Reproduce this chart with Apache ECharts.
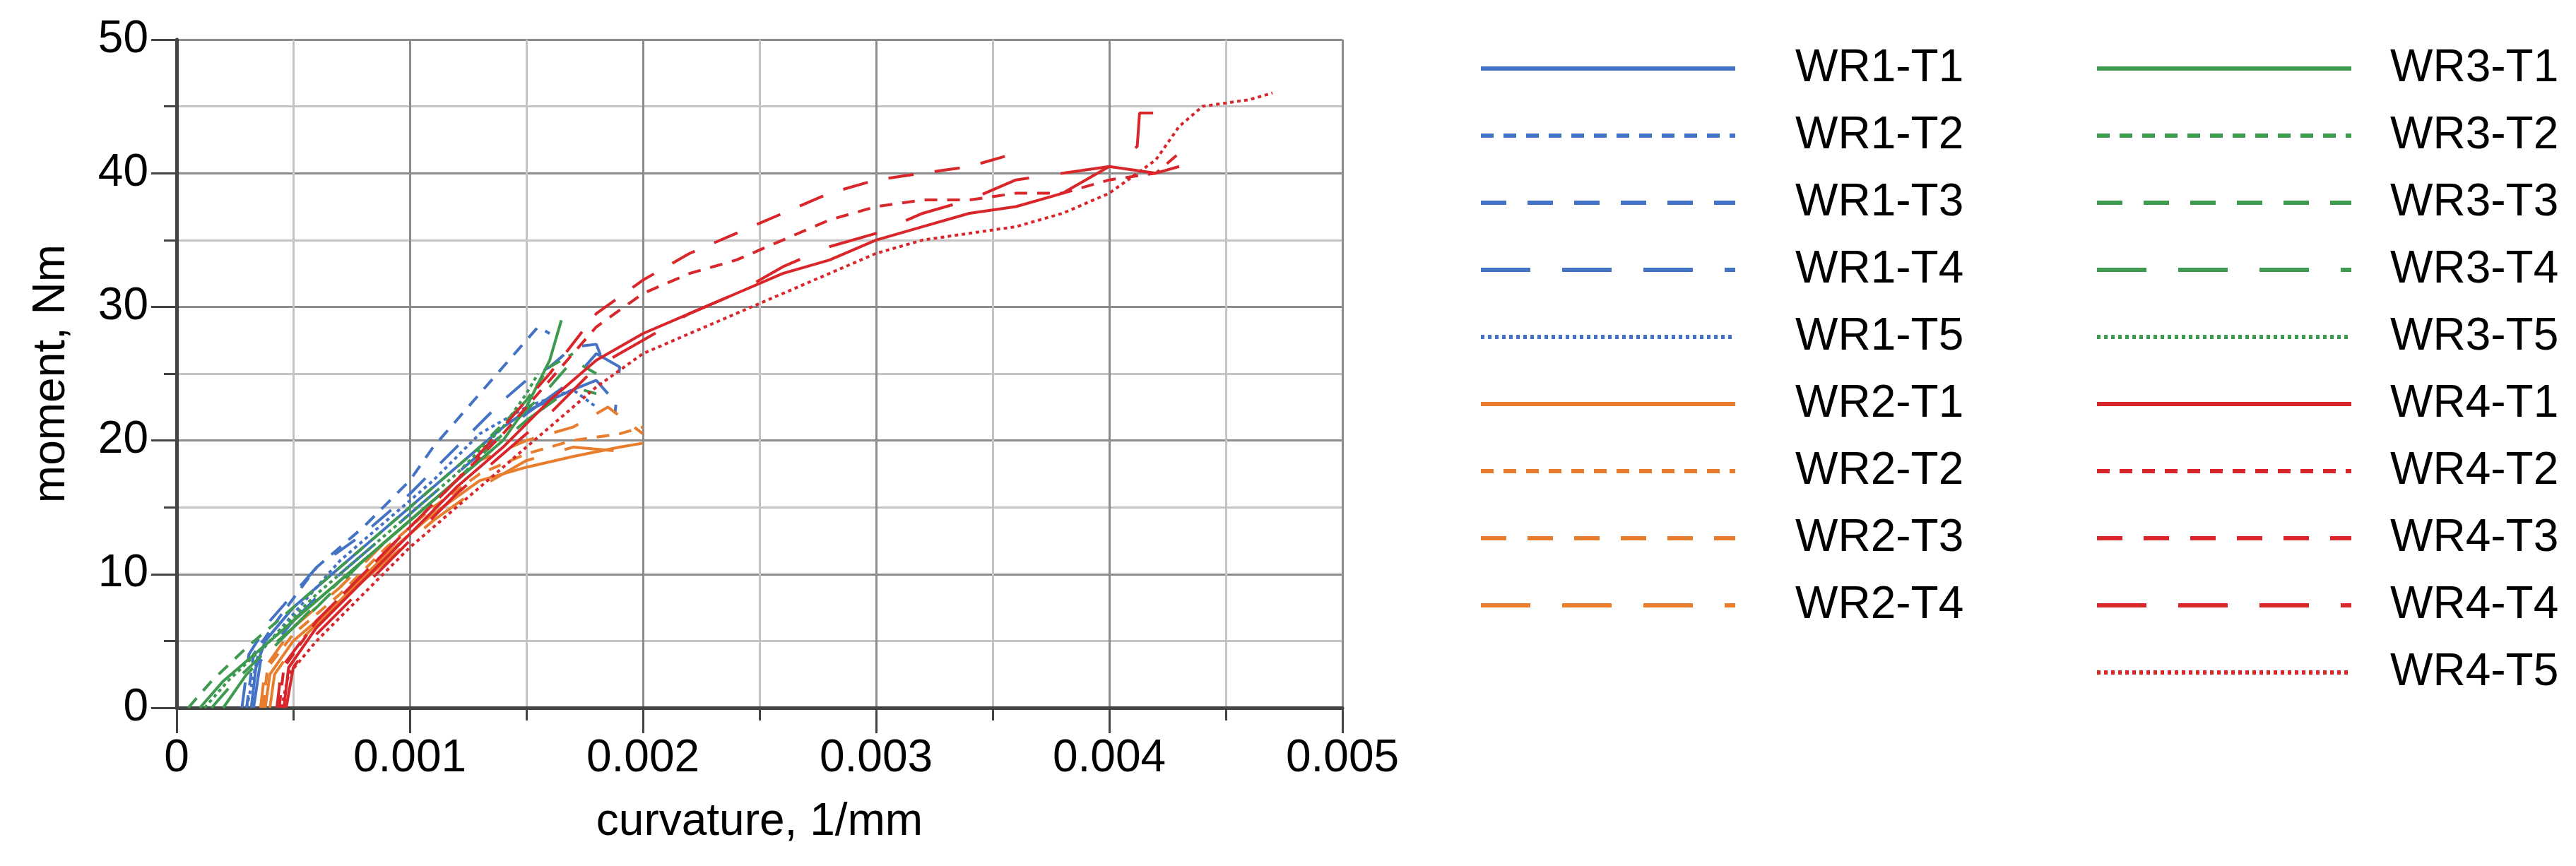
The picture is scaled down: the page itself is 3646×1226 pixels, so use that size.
<!DOCTYPE html>
<html><head><meta charset="utf-8">
<script src="https://cdn.jsdelivr.net/npm/echarts@6/dist/echarts.min.js"></script>
<style>html,body{margin:0;padding:0;background:#fff}#c{width:3646px;height:1226px}</style>
</head><body><div id="c"></div>
<script>
const WR1_T1=[[0.00032,0],[0.00034,3],[0.00038,5],[0.0005,7.5],[0.0007,10.5],[0.0009,13.5],[0.0011,16.5],[0.0013,19.5],[0.0014,21],[0.0015,22.2],[0.0016,23],[0.0017,23.8],[0.0018,24.5],[0.00185,23.5]];
const WR1_T2=[[0.0003,0],[0.00033,4],[0.00045,7],[0.0006,10.5],[0.0008,13.5],[0.001,17],[0.0011,19.5],[0.0012,21.5],[0.0013,23.5],[0.0014,25.5],[0.0015,27.5],[0.00155,28.5],[0.0016,28]];
const WR1_T3=[[0.00028,0],[0.00031,4],[0.0004,6.5],[0.0006,10.5],[0.0008,13],[0.001,16],[0.0012,19.5],[0.0014,23],[0.0015,24.5],[0.0016,25.5],[0.0017,27],[0.0018,27.2],[0.00185,25]];
const WR1_T4=[[0.00033,0],[0.00036,3.5],[0.0005,6.5],[0.0007,10],[0.0009,13],[0.0011,16],[0.0013,19],[0.0015,22],[0.0017,24.5],[0.0018,26.5],[0.0019,25.5],[0.00188,22]];
const WR1_T5=[[0.0003,0],[0.00035,4],[0.0005,7],[0.0007,11],[0.0009,14],[0.0011,17],[0.0013,20.5],[0.0015,22.5],[0.0017,23.8],[0.0018,22.5]];
const WR2_T1=[[0.00038,0],[0.0004,2.5],[0.0005,5],[0.0007,8],[0.0009,11.5],[0.0011,14.5],[0.0013,17],[0.0015,18],[0.0017,18.8],[0.0019,19.5],[0.002,19.8]];
const WR2_T2=[[0.00037,0],[0.00039,3],[0.0005,5.5],[0.0007,8.5],[0.0009,12],[0.0011,15],[0.0013,17.5],[0.0015,19],[0.0017,20],[0.0019,20.5],[0.002,21]];
const WR2_T3=[[0.00036,0],[0.00038,3],[0.0005,6],[0.0007,9],[0.0009,12.5],[0.0011,15.5],[0.0013,18.5],[0.0015,20],[0.0017,21],[0.00185,22.5],[0.002,20.5]];
const WR2_T4=[[0.0004,0],[0.00042,2.5],[0.0005,4.5],[0.0007,8],[0.0009,11],[0.0011,14],[0.0013,16.5],[0.0015,18.5],[0.0017,19.5],[0.0019,19.2],[0.002,19.6]];
const WR3_T1=[[0.0001,0],[0.0002,2],[0.0004,5],[0.0006,8],[0.0008,11],[0.001,14],[0.0012,17],[0.0014,20],[0.0015,22.5],[0.0016,26],[0.00165,29]];
const WR3_T2=[[0.00005,0],[0.00015,2],[0.0003,4.5],[0.0005,7.5],[0.0007,10.5],[0.0009,13.5],[0.0011,16.5],[0.0013,19.5],[0.0015,23],[0.0016,25.5],[0.0017,26.5]];
const WR3_T3=[[0.00015,0],[0.00025,2],[0.0004,4.5],[0.0006,7.5],[0.0008,11],[0.001,14],[0.0012,17],[0.0014,20.5],[0.0016,24],[0.0017,26],[0.0018,25]];
const WR3_T4=[[0.0002,0],[0.0003,2.5],[0.0005,6],[0.0007,9.5],[0.0009,12.5],[0.0011,15.5],[0.0013,18.5],[0.0015,21.5],[0.0017,24],[0.0018,23.5]];
const WR3_T5=[[0.00012,0],[0.00022,2],[0.0004,5],[0.0006,8.5],[0.0008,11.5],[0.001,14.5],[0.0012,17.5],[0.0014,21],[0.0015,23.5],[0.00155,25]];
const WR4_T1=[[0.00046,0],[0.00048,3],[0.0006,6],[0.0008,9.5],[0.001,13],[0.0012,16.5],[0.0014,19.5],[0.0016,23],[0.0018,26],[0.002,28],[0.0022,29.5],[0.0024,31],[0.0026,32.5],[0.0028,33.5],[0.003,35],[0.0032,36],[0.0034,37],[0.0036,37.5],[0.0038,38.5],[0.004,40.5],[0.0042,40],[0.0043,40.5]];
const WR4_T2=[[0.00044,0],[0.00046,3],[0.0006,6.5],[0.0008,10],[0.001,13.5],[0.0012,17],[0.0014,20.5],[0.0016,24.5],[0.0018,28.5],[0.002,31],[0.0022,32.5],[0.0024,33.5],[0.0026,35],[0.0028,36.5],[0.003,37.5],[0.0032,38],[0.0034,38],[0.0036,38.5],[0.0038,38.5],[0.004,39.5],[0.0042,40],[0.0043,41.5]];
const WR4_T3=[[0.00043,0],[0.00045,3],[0.0006,6.5],[0.0008,10],[0.001,13.5],[0.0012,17],[0.0014,21],[0.0016,25],[0.0018,29.5],[0.002,32],[0.0022,34],[0.0024,35.5],[0.0026,37],[0.0028,38.5],[0.003,39.5],[0.0032,40],[0.0034,40.5],[0.0036,41.5]];
const WR4_T4=[[0.00047,0],[0.0005,3],[0.0006,5.5],[0.0008,9],[0.001,12.5],[0.0012,16],[0.0014,19],[0.0016,22],[0.0018,25.5],[0.002,27.5],[0.0022,29.5],[0.0024,31],[0.0026,33],[0.0028,34.5],[0.003,35.5],[0.0032,37],[0.0034,38],[0.0036,39.5],[0.0038,40],[0.004,40.5],[0.00412,42],[0.00413,44.5],[0.0042,44.5]];
const WR4_T5=[[0.00045,0],[0.00048,2.5],[0.0006,5],[0.0008,8.5],[0.001,12],[0.0012,15],[0.0014,18],[0.0016,21],[0.0018,24],[0.002,26.5],[0.0022,28],[0.0024,29.5],[0.0026,31],[0.0028,32.5],[0.003,34],[0.0032,35],[0.0034,35.5],[0.0036,36],[0.0038,37],[0.004,38.5],[0.0042,41],[0.0043,43.5],[0.0044,45],[0.0046,45.5],[0.0047,46]];

const xTicks=['0','0.001','0.002','0.003','0.004','0.005'];
const yTicks=['0','10','20','30','40','50'];

const colors={WR1:'#4472C4',WR2:'#E87D2E',WR3:'#3D9A4E',WR4:'#D9262B'};
const dashes={T1:'solid',T2:[18,14],T3:[36,30],T4:[70,45],T5:[5,5]};
const seriesList=[
 ['WR1-T1',WR1_T1],['WR1-T2',WR1_T2],['WR1-T3',WR1_T3],['WR1-T4',WR1_T4],['WR1-T5',WR1_T5],
 ['WR2-T1',WR2_T1],['WR2-T2',WR2_T2],['WR2-T3',WR2_T3],['WR2-T4',WR2_T4],
 ['WR3-T1',WR3_T1],['WR3-T2',WR3_T2],['WR3-T3',WR3_T3],['WR3-T4',WR3_T4],['WR3-T5',WR3_T5],
 ['WR4-T1',WR4_T1],['WR4-T2',WR4_T2],['WR4-T3',WR4_T3],['WR4-T4',WR4_T4],['WR4-T5',WR4_T5]];
const series=seriesList.map(([n,d])=>{const [g,t]=n.split('-');return {name:n,type:'line',data:d,symbol:'none',showSymbol:false,smooth:false,
 itemStyle:{color:colors[g]},lineStyle:{color:colors[g],width:4,type:dashes[t]}};});
const col1=seriesList.slice(0,9).map(s=>s[0]);
const col2=seriesList.slice(9).map(s=>s[0]);
const font='Liberation Sans, Arial, sans-serif';
function legendAt(left,pad,data){return {orient:'vertical',left:left,top:60,data:data,itemWidth:360,itemHeight:16,itemGap:31,
 textStyle:{fontSize:64,fontFamily:font,color:'#000',padding:[0,0,0,pad]},lineStyle:{width:6},itemStyle:{opacity:0},selectedMode:false};}
const chart=echarts.init(document.getElementById('c'));
chart.setOption({
 animation:false,backgroundColor:'#fff',
 grid:{left:250,top:56,right:1746,bottom:224,containLabel:false},
 legend:[legendAt(2088,80,col1),legendAt(2960,50,col2)],
 xAxis:{type:'value',min:0,max:0.005,interval:0.001,name:'curvature, 1/mm',nameLocation:'middle',nameGap:130,
  nameTextStyle:{fontSize:64,fontFamily:font,color:'#000'},
  axisLabel:{fontSize:64,fontFamily:font,color:'#000',margin:40,formatter:(v)=>xTicks[Math.round(v/0.001)]},
  axisLine:{onZero:false,lineStyle:{color:'#444',width:5}},axisTick:{length:36,inside:false,lineStyle:{color:'#444',width:3}},
  minorTick:{show:true,splitNumber:2,length:18,lineStyle:{color:'#444',width:3}},
  splitLine:{lineStyle:{color:'#8c8c8c',width:3}},minorSplitLine:{show:true,lineStyle:{color:'#c4c4c4',width:3}}},
 yAxis:{type:'value',min:0,max:50,interval:10,name:'moment, Nm',nameLocation:'middle',nameGap:145,
  nameTextStyle:{fontSize:64,fontFamily:font,color:'#000'},
  axisLabel:{fontSize:64,fontFamily:font,color:'#000',margin:40,formatter:(v)=>yTicks[Math.round(v/10)]},
  axisLine:{show:true,lineStyle:{color:'#444',width:5}},axisTick:{show:true,length:36,lineStyle:{color:'#444',width:3}},
  minorTick:{show:true,splitNumber:2,length:18,lineStyle:{color:'#444',width:3}},
  splitLine:{lineStyle:{color:'#8c8c8c',width:3}},minorSplitLine:{show:true,lineStyle:{color:'#c4c4c4',width:3}}},
 series:series
});
</script></body></html>
